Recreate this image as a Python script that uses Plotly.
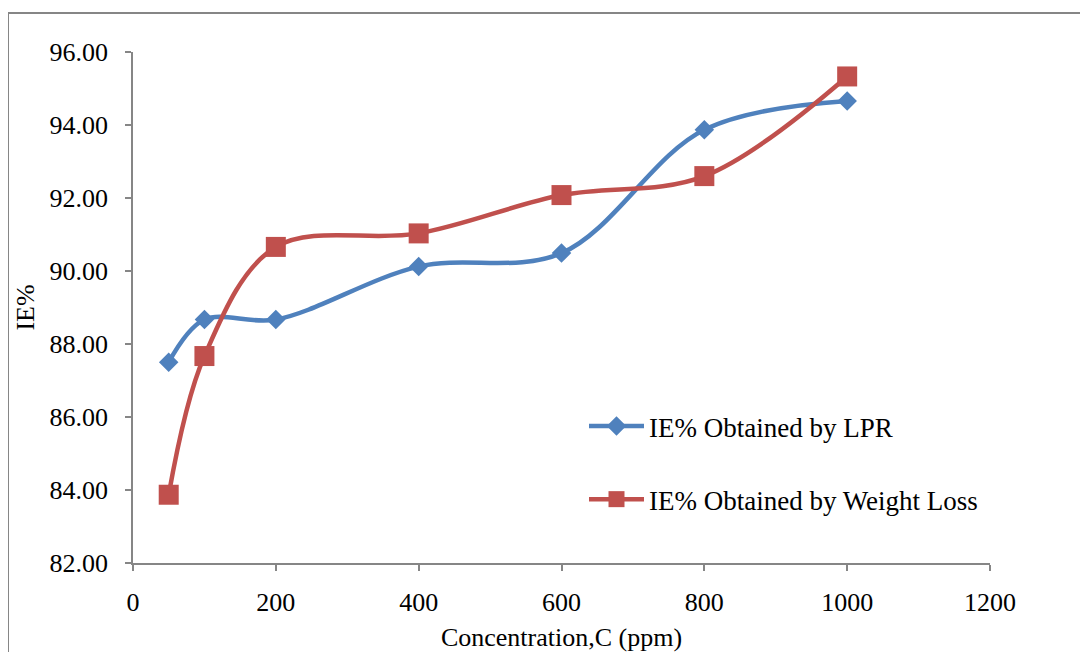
import plotly.graph_objects as go

concentration = [50, 100, 200, 400, 600, 800, 1000]
ie_lpr = [87.50, 88.67, 88.67, 90.12, 90.49, 93.87, 94.66]
ie_weight_loss = [83.87, 87.67, 90.66, 91.03, 92.08, 92.60, 95.33]

series_names = ["IE% Obtained by LPR", "IE% Obtained by Weight Loss"]
x_ticks = [0, 200, 400, 600, 800, 1000, 1200]
y_ticks = [82, 84, 86, 88, 90, 92, 94, 96]

BLUE = "#4F81BD"
RED = "#C0504D"
AXIS = "#868686"
FONT = "Liberation Serif, Times New Roman, serif"

# page has an 8px body margin; figure is offset by (8, 8)
OFF = 8
W, H = 1088 - OFF, 652 - OFF
L, T = 133 - OFF, 52 - OFF
R = W - (990 - OFF)
B = H - (563 - OFF)
pw = W - L - R
ph = H - T - B


def px_x(px):
    return (px - OFF - L) / pw


def px_y(py):
    return (H - B - (py - OFF)) / ph


fig = go.Figure()
fig.add_trace(go.Scatter(
    x=concentration, y=ie_lpr, name=series_names[0], legendgroup="a",
    mode="lines+markers",
    line=dict(color=BLUE, width=4.5, shape="spline", smoothing=1.0),
    marker=dict(symbol="diamond", size=15, color=BLUE),
))
fig.add_trace(go.Scatter(
    x=concentration, y=ie_weight_loss, name=series_names[1], legendgroup="b",
    mode="lines+markers",
    line=dict(color=RED, width=4.5, shape="spline", smoothing=1.0),
    marker=dict(symbol="square", size=20, color=RED),
))

fig.update_layout(
    width=W, height=H,
    margin=dict(l=L, r=R, t=T, b=B, pad=0, autoexpand=False),
    paper_bgcolor="white", plot_bgcolor="white",
    font=dict(family=FONT, size=26, color="black"),
    showlegend=True,
    legend=dict(
        x=px_x(584), y=px_y(402), xanchor="left", yanchor="top",
        traceorder="grouped", tracegroupgap=35, itemwidth=55,
        font=dict(family=FONT, size=27, color="black"),
        bgcolor="rgba(0,0,0,0)",
    ),
    xaxis=dict(
        range=[0, 1200], tickvals=x_ticks, ticktext=[str(v) for v in x_ticks],
        showgrid=False, zeroline=False, automargin=False,
        showline=True, linecolor=AXIS, linewidth=1.5,
        ticks="outside", ticklen=6, tickwidth=1.5, tickcolor=AXIS,
        ticklabelstandoff=9,
        title=dict(text="Concentration,C (ppm)", standoff=17,
                   font=dict(family=FONT, size=26)),
    ),
    yaxis=dict(
        range=[82, 96], tickvals=y_ticks, tickformat=".2f",
        showgrid=False, zeroline=False, automargin=False,
        showline=True, linecolor=AXIS, linewidth=1.5,
        ticks="outside", ticklen=6, tickwidth=1.5, tickcolor=AXIS,
        ticklabelstandoff=12,
        title=dict(text="IE%", standoff=7, font=dict(family=FONT, size=26)),
    ),
    shapes=[dict(
        type="rect", xref="paper", yref="paper",
        x0=px_x(8), x1=px_x(1100),
        y0=px_y(700), y1=px_y(13),
        line=dict(color=AXIS, width=2), fillcolor="rgba(0,0,0,0)", layer="below",
    )],
)

fig.write_html("out.html")
